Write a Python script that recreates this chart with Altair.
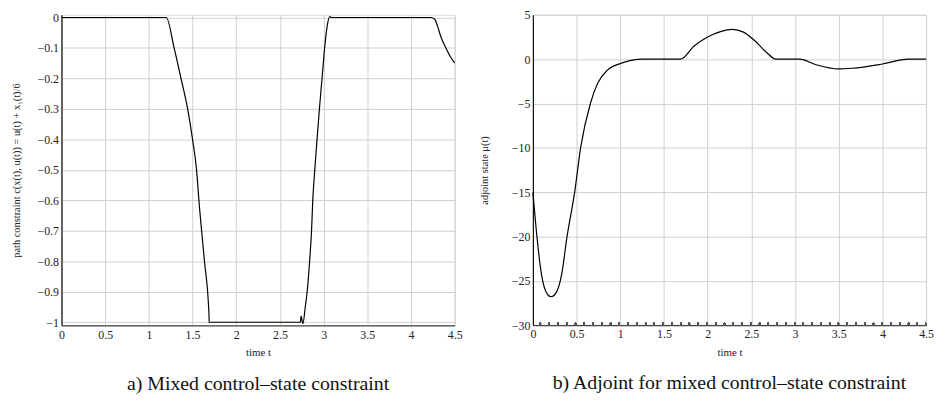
import altair as alt
import pandas as pd

# ---- data ----
t_left = [0, 1.2, 1.289, 1.368, 1.444, 1.5, 1.546, 1.575, 1.633, 1.689, 1.69, 2.735,
          2.742, 2.763, 2.79, 2.812, 2.84, 2.862, 2.876, 2.899, 2.925, 2.952, 2.982,
          3.012, 3.04, 3.07, 3.09, 4.23, 4.27, 4.3, 4.343, 4.4, 4.45, 4.5]
c_left = [0, 0, -0.1, -0.2, -0.3, -0.4, -0.5, -0.607, -0.79, -0.98, -1.0, -1.0,
          -0.98, -1.005, -0.95, -0.9, -0.8, -0.7, -0.6, -0.5, -0.4, -0.3, -0.2,
          -0.1, -0.03, 0.003, 0, 0, -0.005, -0.025, -0.064, -0.1, -0.128, -0.149]

t_right = [0, 0.045, 0.1, 0.158, 0.207, 0.271, 0.327, 0.391, 0.478, 0.546, 0.658,
           0.741, 0.854, 1.005, 1.1, 1.2, 1.235, 1.688, 1.846, 2.0, 2.147, 2.28,
           2.41, 2.54, 2.675, 2.78, 3.055, 3.24, 3.5, 3.654, 4.0, 4.294, 4.5]
mu_right = [-15, -19.9, -24.4, -26.4, -26.8, -26.25, -24.4, -20, -15, -10, -5,
            -2.73, -1.23, -0.48, -0.2, -0.03, 0, 0, 1.49, 2.5, 3.1, 3.35,
            3.05, 2.07, 0.75, 0, 0, -0.63, -1.1, -1.03, -0.55, 0, 0]

x_ticks = [0, 0.5, 1, 1.5, 2, 2.5, 3, 3.5, 4, 4.5]
yl_ticks = [0, -0.1, -0.2, -0.3, -0.4, -0.5, -0.6, -0.7, -0.8, -0.9, -1]
yr_ticks = [5, 0, -5, -10, -15, -20, -25, -30]

left_title = "path constraint c(x(t), u(t)) = u(t) + x\u2081(t)/6"
right_title = "adjoint state \u03bc(t)"
cap_a = "a) Mixed control\u2013state constraint"
cap_b = "b) Adjoint for mixed control\u2013state constraint"

FONT = "Liberation Serif"
GRID = "#cfcfcf"

df_left = pd.DataFrame({"t": t_left, "v": c_left})
df_right = pd.DataFrame({"t": t_right, "v": mu_right})


def x_axis():
    return alt.Axis(values=x_ticks, format="~g", title="time t", grid=True,
                    gridColor=GRID, ticks=False, domainColor="#444",
                    domainWidth=1.3, labelPadding=4, titlePadding=7,
                    labelFont=FONT, titleFont=FONT, labelFontSize=12,
                    titleFontSize=11, titleFontWeight="normal",
                    labelColor="#222", titleColor="#222", labelFlush=False)


def y_axis(vals, title, tx):
    return alt.Axis(values=vals, format="~g", title=title, grid=True,
                    gridColor=GRID, ticks=False, domainColor="#111",
                    domainWidth=1.2, labelPadding=3, titleX=tx,
                    titleBaseline="middle", labelFont=FONT, titleFont=FONT,
                    labelFontSize=12, titleFontSize=10.5,
                    titleFontWeight="normal", labelColor="#222",
                    titleColor="#222", labelFlush=False)


W = 397
HL = 313.5
HR = 313.3

left = alt.Chart(df_left).mark_line(color="black", strokeWidth=1.2,
                                    interpolate="monotone").encode(
    x=alt.X("t:Q", scale=alt.Scale(domain=[0, 4.5], nice=False, zero=False),
            axis=x_axis()),
    y=alt.Y("v:Q", scale=alt.Scale(domain=[-1.01, 0.0088], nice=False, zero=False),
            axis=y_axis(yl_ticks, left_title, -45)),
).properties(
    width=W, height=HL,
    title=alt.TitleParams(cap_a, orient="bottom", font=FONT, fontSize=20,
                          fontWeight="normal", color="#111", offset=16,
                          anchor="middle"),
)

right_line = alt.Chart(df_right).mark_line(color="black", strokeWidth=1.2,
                                           interpolate="monotone").encode(
    x=alt.X("t:Q", scale=alt.Scale(domain=[0, 4.5], nice=False, zero=False),
            axis=x_axis()),
    y=alt.Y("v:Q", scale=alt.Scale(domain=[-30, 5], nice=False, zero=False),
            axis=y_axis(yr_ticks, right_title, -49)),
)
right_dots = alt.Chart(df_right).mark_rule(
    color="#555", strokeWidth=3, strokeDash=[1.2, 7.65]
).encode(x=alt.value(7), x2=alt.value(W), y=alt.value(HR - 1))

right = alt.layer(right_line, right_dots).properties(
    width=W, height=HR,
    title=alt.TitleParams(cap_b, orient="bottom", font=FONT, fontSize=20,
                          fontWeight="normal", color="#111", offset=16,
                          anchor="middle"),
)

chart = alt.hconcat(left, right, spacing=16).properties(
    padding={"left": 3, "top": -2, "right": 0, "bottom": 0}
).configure_view(stroke=None).configure(background="white")

chart.save("out.html", embed_options={"renderer": "svg", "actions": False})
